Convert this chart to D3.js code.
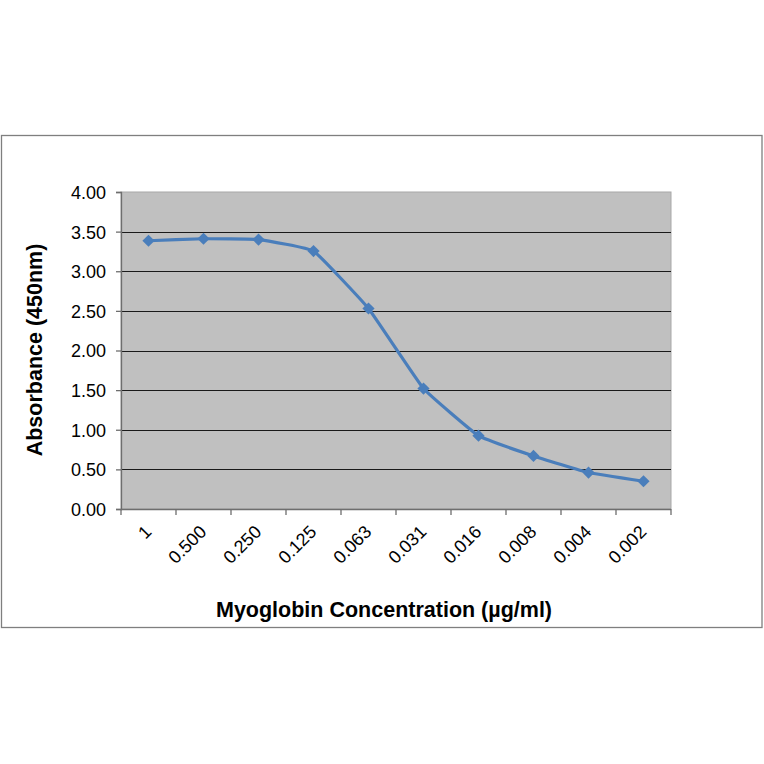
<!DOCTYPE html>
<html>
<head>
<meta charset="utf-8">
<script src="https://cdn.jsdelivr.net/npm/d3@7"></script>
<style>
  html, body { margin: 0; padding: 0; background: #fff; }
  svg { display: block; }
  text { font-family: "Liberation Sans", Arial, sans-serif; fill: #000; }
</style>
</head>
<body>
<svg id="chart" width="764" height="764"></svg>
<script>
const categories = ["1", "0.500", "0.250", "0.125", "0.063", "0.031", "0.016", "0.008", "0.004", "0.002"];
const absorbance = [3.385, 3.41, 3.40, 3.255, 2.53, 1.52, 0.925, 0.67, 0.46, 0.35];
const yTicks = [0, 0.5, 1, 1.5, 2, 2.5, 3, 3.5, 4];
const xTitle = "Myoglobin Concentration (µg/ml)";
const yTitle = "Absorbance (450nm)";

const svg = d3.select("#chart");
const L = 121, R = 671, T = 192, B = 509;

// outer frame
svg.append("rect").attr("x", 1.5).attr("y", 135.5).attr("width", 760.5).attr("height", 492)
  .attr("fill", "#fff").attr("stroke", "#7f7f7f").attr("stroke-width", 1.3);

const x = d3.scaleBand().domain(categories).range([L, R]).paddingInner(0).paddingOuter(0);
const y = d3.scaleLinear().domain([0, 4]).range([B, T]);

// plot area
svg.append("rect").attr("x", L).attr("y", T).attr("width", R - L).attr("height", B - T)
  .attr("fill", "#c0c0c0").attr("stroke", "#a8a8a8").attr("stroke-width", 1);

// gridlines
svg.append("g").selectAll("line").data(yTicks.filter(d => d > 0 && d < 4)).join("line")
  .attr("x1", L).attr("x2", R)
  .attr("y1", d => Math.round(y(d)) + 0.5).attr("y2", d => Math.round(y(d)) + 0.5)
  .attr("stroke", "#1a1a1a").attr("stroke-width", 1.2);

// y axis
const yAxis = d3.axisLeft(y).tickValues(yTicks).tickFormat(d3.format(".2f")).tickSize(5).tickPadding(10);
const gy = svg.append("g").attr("transform", `translate(${L},0)`).call(yAxis);
gy.select(".domain").attr("stroke", "#6e6e6e").attr("stroke-width", 1.3);
gy.selectAll(".tick line").attr("stroke", "#6e6e6e").attr("stroke-width", 1.3);
gy.selectAll(".tick text").style("font-size", "18px").style("font-family", "'Liberation Sans', Arial, sans-serif")
  .attr("fill", "#111").attr("dy", "0.36em");

// x axis (ticks at category boundaries)
const boundaries = categories.map(c => x(c)).concat([R]);
const gx = svg.append("g");
gx.append("line").attr("x1", L).attr("x2", R).attr("y1", B + 0.5).attr("y2", B + 0.5)
  .attr("stroke", "#6e6e6e").attr("stroke-width", 1.3);
gx.selectAll("line.tk").data(boundaries).join("line").attr("class", "tk")
  .attr("x1", d => d).attr("x2", d => d).attr("y1", B).attr("y2", B + 6)
  .attr("stroke", "#6e6e6e").attr("stroke-width", 1.3);
gx.selectAll("text").data(categories).join("text")
  .attr("text-anchor", "end")
  .attr("fill", "#111")
  .attr("transform", d => `translate(${x(d) + x.bandwidth() / 2 + 4},${533}) rotate(-45)`)
  .style("font-size", "18px")
  .text(d => d);

// line
const line = d3.line()
  .x((d, i) => x(categories[i]) + x.bandwidth() / 2)
  .y(d => y(d))
  .curve(d3.curveCardinal.tension(0.7));
svg.append("path").datum(absorbance).attr("d", line)
  .attr("fill", "none").attr("stroke", "#4a7ebb").attr("stroke-width", 3.2)
  .attr("stroke-linejoin", "round");

// markers
svg.append("g").selectAll("path").data(absorbance).join("path")
  .attr("d", d3.symbol().type(d3.symbolDiamond2).size(95))
  .attr("transform", (d, i) => `translate(${x(categories[i]) + x.bandwidth() / 2},${y(d)})`)
  .attr("fill", "#4a7ebb");

// titles
svg.append("text").attr("x", 384).attr("y", 617).attr("text-anchor", "middle")
  .style("font-size", "21.5px").style("font-weight", "bold").text(xTitle);
svg.append("text").attr("transform", "translate(42,350) rotate(-90)").attr("text-anchor", "middle")
  .style("font-size", "21.5px").style("font-weight", "bold").text(yTitle);
</script>
</body>
</html>
